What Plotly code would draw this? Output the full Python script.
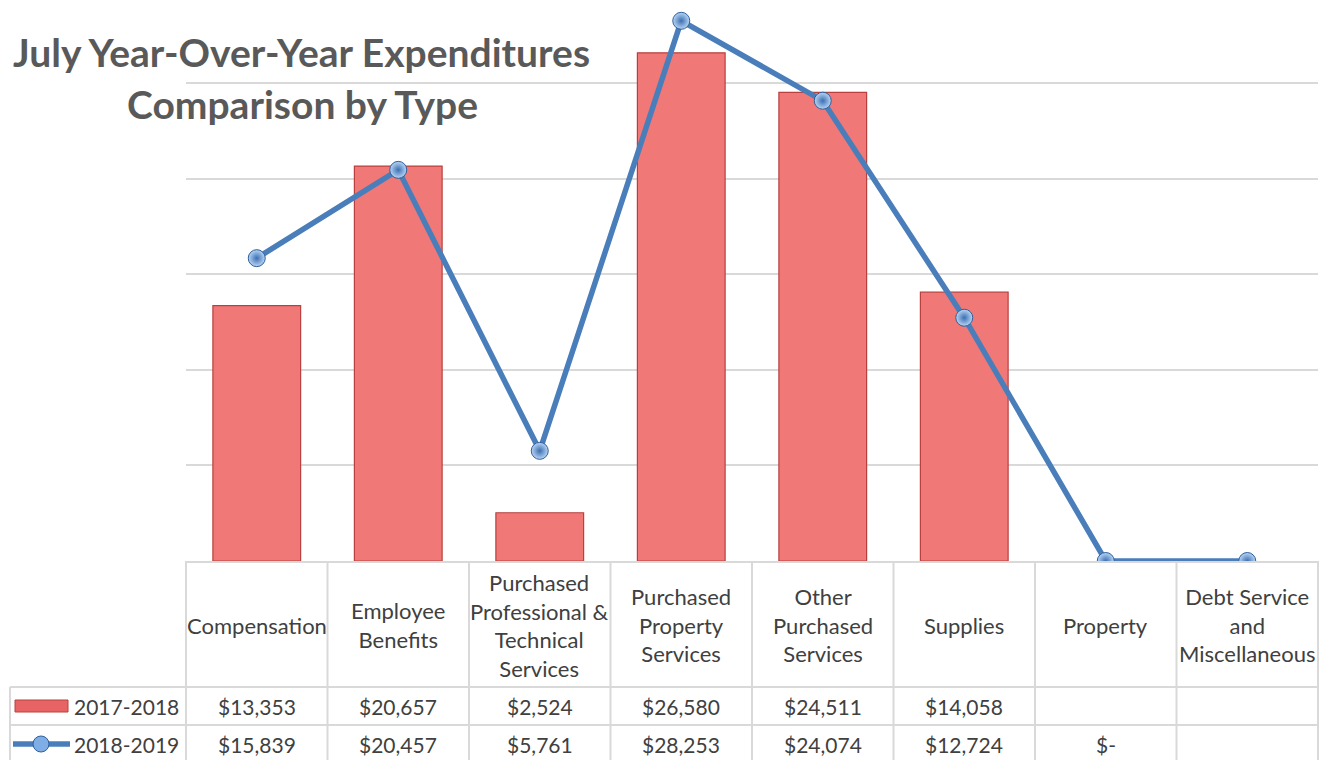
import plotly.graph_objects as go

categories = ["Compensation", "Employee<br>Benefits", "Purchased<br>Professional &<br>Technical<br>Services",
              "Purchased<br>Property<br>Services", "Other<br>Purchased<br>Services", "Supplies",
              "Property", "Debt Service<br>and<br>Miscellaneous"]
cat_keys = ["Compensation", "Employee Benefits", "Purchased Professional & Technical Services",
            "Purchased Property Services", "Other Purchased Services", "Supplies",
            "Property", "Debt Service and Miscellaneous"]
series_names = ["2017-2018", "2018-2019"]
values_2017 = [13353, 20657, 2524, 26580, 24511, 14058, None, None]
values_2018 = [15839, 20457, 5761, 28253, 24074, 12724, 0, None]

W, H = 1333, 760
L, R_EDGE, BASE, TOP = 186, 1318, 561, 0
PW = R_EDGE - L
PH = BASE - TOP
GRID = "#D9D9D9"
TXT = "#404040"
FONT = "Lato"


def px(x):
    return (x - L) / PW


def py(y):
    return (BASE - y) / PH


def fmt(v):
    if v is None:
        return ""
    if v == 0:
        return "$-"
    return "${:,.0f}".format(v)


fig = go.Figure()
fig.add_trace(go.Bar(
    x=cat_keys, y=values_2017, name=series_names[0], width=0.62,
    marker=dict(color="#F07877", line=dict(color="#B8403E", width=1.2)),
    showlegend=False,
))
fig.add_trace(go.Scatter(
    x=cat_keys, y=[v if v is not None else 0 for v in values_2018], name=series_names[1],
    mode="lines+markers",
    line=dict(color="#4A7EBB", width=5.5),
    marker=dict(size=17, color="#B9D6F5", line=dict(color="#2F5F9A", width=1),
                gradient=dict(type="radial", color="#3C6FB2")),
    showlegend=False,
))

shapes = []
ncat = len(cat_keys)
cw = PW / ncat
for i in range(ncat + 1):
    x = L + i * cw
    shapes.append(dict(type="line", xref="paper", yref="paper", x0=px(x), x1=px(x),
                       y0=py(BASE), y1=py(H + 5), line=dict(color=GRID, width=2)))
for y, x0 in [(BASE + 1, L), (687, 10), (725, 10)]:
    shapes.append(dict(type="line", xref="paper", yref="paper", x0=px(x0), x1=px(R_EDGE),
                       y0=py(y), y1=py(y), line=dict(color=GRID, width=2)))
shapes.append(dict(type="line", xref="paper", yref="paper", x0=px(10), x1=px(10),
                   y0=py(687), y1=py(H + 5), line=dict(color=GRID, width=2)))
shapes.append(dict(type="rect", xref="paper", yref="paper", x0=px(15), x1=px(68),
                   y0=py(712), y1=py(700), fillcolor="#E86464", line=dict(color="#B8403E", width=1)))
shapes.append(dict(type="line", xref="paper", yref="paper", x0=px(13), x1=px(70),
                   y0=py(744), y1=py(744), line=dict(color="#4A7EBB", width=5.5)))
shapes.append(dict(type="circle", xref="paper", yref="paper", x0=px(33), x1=px(49),
                   y0=py(752), y1=py(736), fillcolor="#7FAEE6", line=dict(color="#2F5F9A", width=1)))

annotations = []
for i, lab in enumerate(categories):
    cx = px(L + (i + 0.5) * cw)
    annotations.append(dict(x=cx, y=py(625), xref="paper", yref="paper",
                            text=lab, showarrow=False, xanchor="center", yanchor="middle",
                            font=dict(family=FONT, size=22, color=TXT)))
    annotations.append(dict(x=cx, y=py(706), xref="paper", yref="paper",
                            text=fmt(values_2017[i]), showarrow=False, xanchor="center", yanchor="middle",
                            font=dict(family=FONT, size=21, color=TXT)))
    annotations.append(dict(x=cx, y=py(744), xref="paper", yref="paper",
                            text=fmt(values_2018[i]), showarrow=False, xanchor="center", yanchor="middle",
                            font=dict(family=FONT, size=21, color=TXT)))
for name, y in zip(series_names, [706, 744]):
    annotations.append(dict(x=px(72), y=py(y), xref="paper", yref="paper", text=name,
                            showarrow=False, xanchor="left", yanchor="middle",
                            font=dict(family=FONT, size=21, color=TXT)))
annotations.append(dict(x=px(301), y=py(52), xref="paper", yref="paper",
                        text="<b>July Year-Over-Year Expenditures</b>", showarrow=False,
                        xanchor="center", yanchor="middle",
                        font=dict(family=FONT, size=39, color="#595959")))
annotations.append(dict(x=px(302), y=py(104), xref="paper", yref="paper",
                        text="<b>Comparison by Type</b>", showarrow=False,
                        xanchor="center", yanchor="middle",
                        font=dict(family=FONT, size=39, color="#595959")))

fig.update_layout(
    width=W, height=H,
    margin=dict(l=L, r=W - R_EDGE, t=TOP, b=H - BASE),
    paper_bgcolor="white", plot_bgcolor="white",
    xaxis=dict(showticklabels=False, showgrid=False, zeroline=False, showline=False,
               categoryorder="array", categoryarray=cat_keys, range=[-0.5, ncat - 0.5]),
    yaxis=dict(range=[0, PH * 25000 / 478], dtick=5000, showgrid=True, gridcolor=GRID, gridwidth=1.5,
               showticklabels=False, zeroline=False, showline=False),
    shapes=shapes, annotations=annotations,
    bargap=0.38,
)
fig.write_html("out.html", config={"displayModeBar": False},
               post_script="document.body.style.margin='0px';document.body.style.overflow='hidden';")
